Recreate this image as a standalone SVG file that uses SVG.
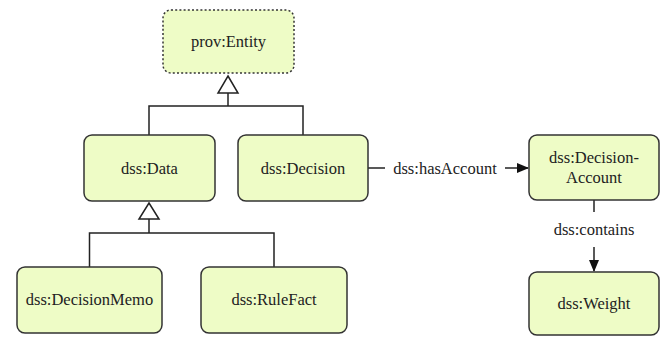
<svg xmlns="http://www.w3.org/2000/svg" width="663" height="337" viewBox="0 0 663 337">
<style>
.node{fill:#eefcc6;stroke:#333;stroke-width:1.5}
.dotted{stroke-dasharray:2,2.2}
.edge{fill:none;stroke:#222;stroke-width:1.5}
.tri{fill:#fff;stroke:#222;stroke-width:1.5}
.t{font-family:'Liberation Serif','Times New Roman',Times,'DejaVu Serif','Noto Serif',serif;font-size:16.5px;fill:#222;text-anchor:middle}
</style>
<defs>
<marker id="arr" markerWidth="12" markerHeight="10" refX="11" refY="5" orient="auto" markerUnits="userSpaceOnUse">
<path d="M0,0 L12,5 L0,10 z" fill="#111"/>
</marker>
</defs>
<g id="connectors">
<path class="edge" d="M149,135 V106 H303 V135 M228,106 V93"/>
<path class="tri" d="M228,76 L238,93 L218,93 z"/>
<path class="edge" d="M89.5,267 V233 H274 V267 M149,233 V219"/>
<path class="tri" d="M149,203 L159,219 L139,219 z"/>
<path class="edge" d="M368,168 H385"/>
<path class="edge" d="M505,168 H528" marker-end="url(#arr)"/>
<text class="t" x="445" y="173.5">dss:hasAccount</text>
<path class="edge" d="M594,200 V212"/>
<path class="edge" d="M594,247 V271" marker-end="url(#arr)"/>
<text class="t" x="594" y="235">dss:contains</text>
</g>
<g id="prov-entity">
<rect class="node dotted" x="163" y="10" width="131" height="63" rx="8"/>
<text class="t" x="228.5" y="47">prov:Entity</text>
</g>
<g id="dss-data">
<rect class="node" x="84" y="135" width="131" height="66" rx="8"/>
<text class="t" x="149.5" y="173.5">dss:Data</text>
</g>
<g id="dss-decision">
<rect class="node" x="238" y="135" width="130" height="66" rx="8"/>
<text class="t" x="303" y="173.5">dss:Decision</text>
</g>
<g id="dss-decision-account">
<rect class="node" x="529" y="135" width="130" height="65" rx="8"/>
<text class="t" x="594" y="163">dss:Decision-</text>
<text class="t" x="594" y="183">Account</text>
</g>
<g id="dss-decisionmemo">
<rect class="node" x="17" y="267" width="145" height="66" rx="8"/>
<text class="t" x="89.5" y="305">dss:DecisionMemo</text>
</g>
<g id="dss-rulefact">
<rect class="node" x="201" y="267" width="146" height="66" rx="8"/>
<text class="t" x="274" y="305">dss:RuleFact</text>
</g>
<g id="dss-weight">
<rect class="node" x="529" y="272" width="130" height="63" rx="8"/>
<text class="t" x="594" y="309">dss:Weight</text>
</g>
</svg>
